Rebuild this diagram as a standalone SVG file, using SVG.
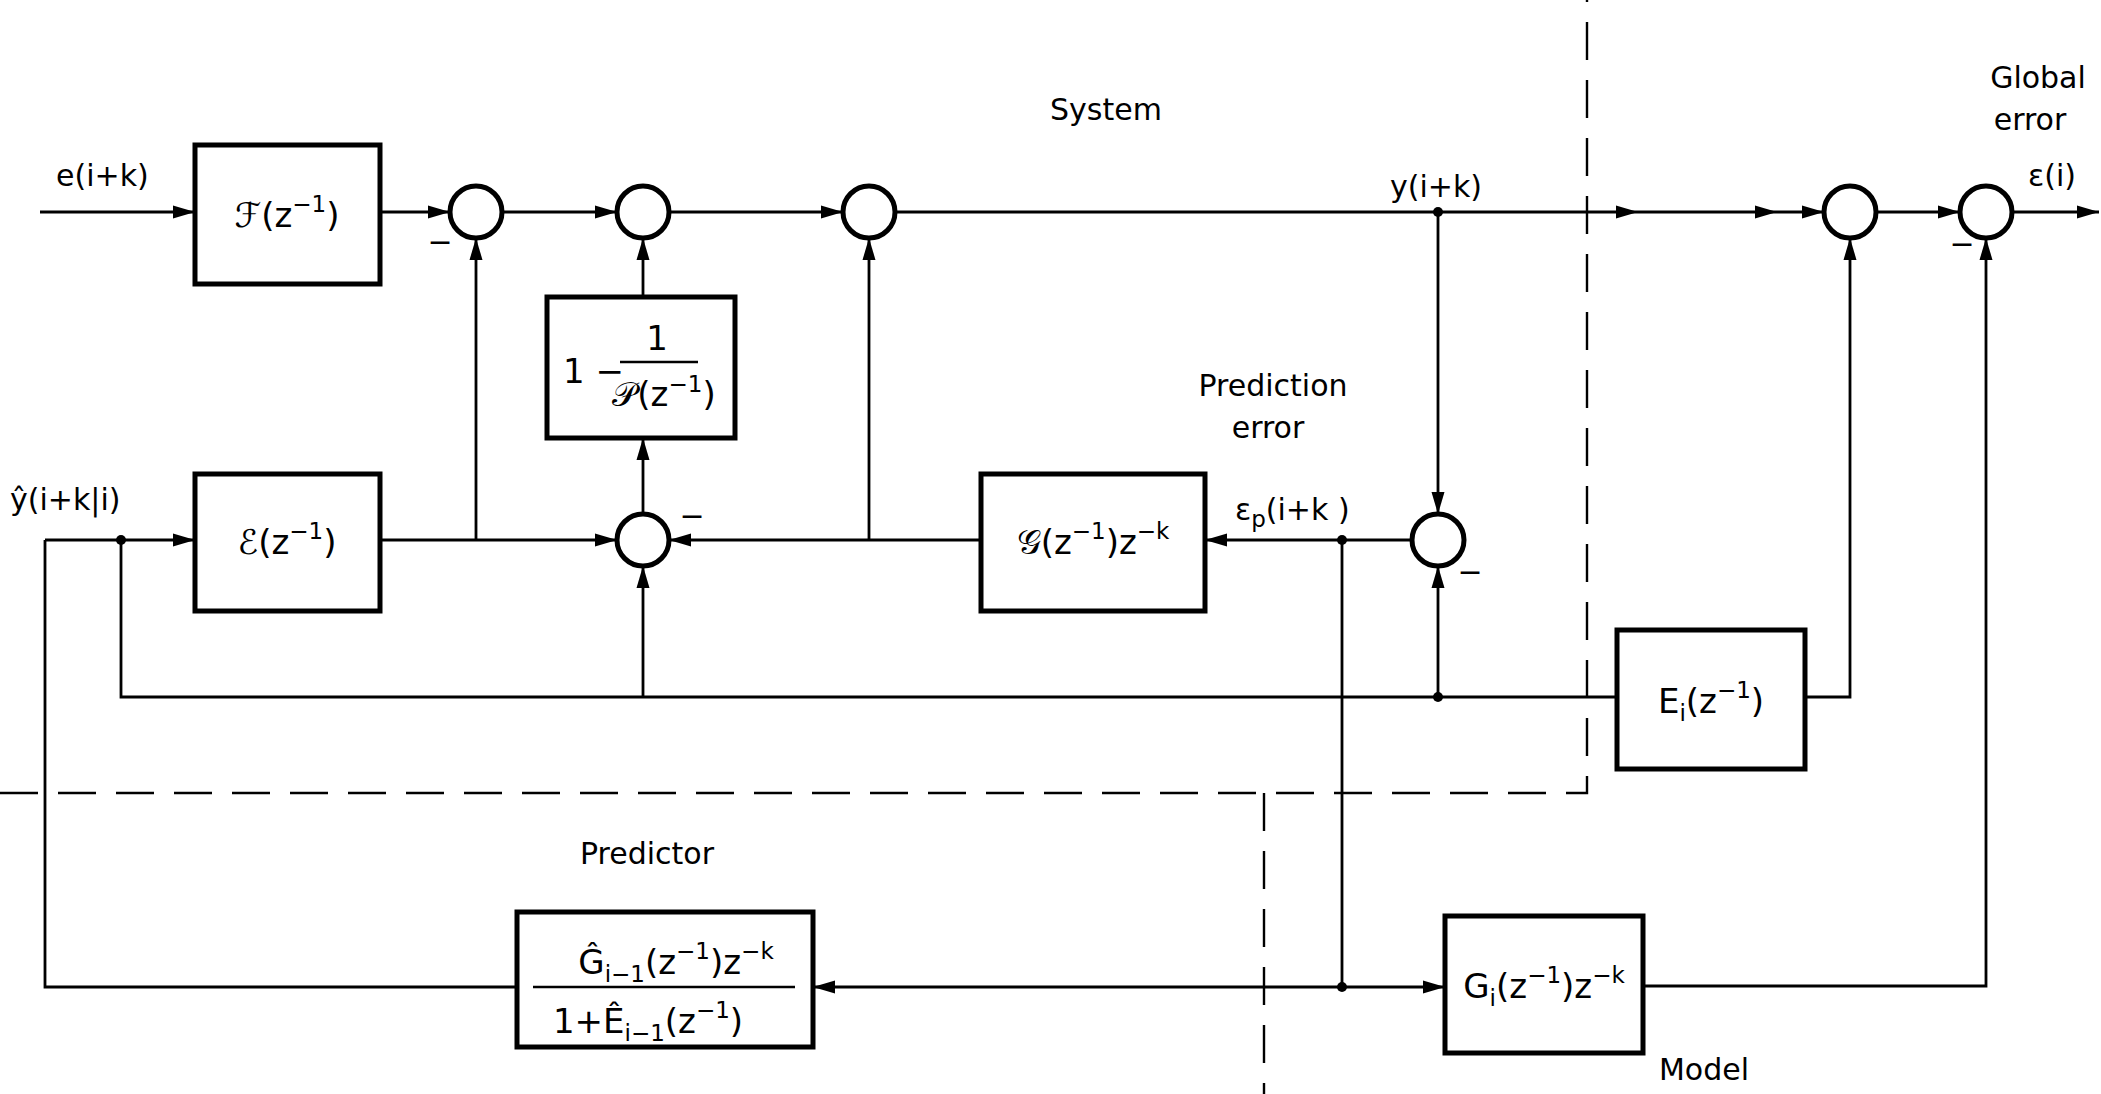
<svg xmlns="http://www.w3.org/2000/svg" width="2101" height="1094" viewBox="0 0 2101 1094">
<defs>
<marker id="arr" markerUnits="userSpaceOnUse" markerWidth="24" markerHeight="14" refX="22" refY="7" orient="auto">
<path d="M0,0.5 L22,7 L0,13.5 z" fill="#000"/>
</marker>
</defs>
<style>
.box{fill:#fff;stroke:#000;stroke-width:5}
.sum{fill:#fff;stroke:#000;stroke-width:5}
.ln{fill:none;stroke:#000;stroke-width:2.8}
.ar{fill:none;stroke:#000;stroke-width:2.8;marker-end:url(#arr)}
.dash{fill:none;stroke:#000;stroke-width:2.4;stroke-dasharray:38 20}
.dot{fill:#000}
text{font-family:"DejaVu Sans","Liberation Sans",sans-serif;fill:#000}
.lbl{font-size:30px}
.bt{font-size:34px}
.sup{font-size:23px}
.minus{font-size:30px}
</style>
<rect width="2101" height="1094" fill="#fff"/>

<g id="boundaries">
<path class="dash" d="M0,793 H1587 V0"/>
<path class="dash" d="M1264,793 V1094"/>
</g>

<g id="connectors">
<path class="ar" d="M40,212 H195"/>
<path class="ar" d="M380,212 H450"/>
<path class="ar" d="M502,212 H617"/>
<path class="ar" d="M669,212 H843"/>
<path class="ar" d="M895,212 H1638"/>
<path class="ar" d="M1638,212 H1777"/>
<path class="ar" d="M1777,212 H1824"/>
<path class="ar" d="M1876,212 H1960"/>
<path class="ar" d="M2012,212 H2099"/>
<path class="ar" d="M1438,212 V514"/>
<path class="ar" d="M1412,540 H1205"/>
<path class="ar" d="M981,540 H669"/>
<path class="ar" d="M380,540 H617"/>
<path class="ar" d="M476,540 V238"/>
<path class="ar" d="M869,540 V238"/>
<path class="ar" d="M643,514 V438"/>
<path class="ar" d="M643,297 V238"/>
<path class="ar" d="M45,540 H195"/>
<path class="ln" d="M121,540 V697 H1617"/>
<path class="ar" d="M643,697 V566"/>
<path class="ar" d="M1438,697 V566"/>
<path class="ar" d="M1805,697 H1850 V238"/>
<path class="ln" d="M1342,540 V987"/>
<path class="ar" d="M1342,987 H813"/>
<path class="ar" d="M1342,987 H1445"/>
<path class="ar" d="M1643,986 H1986 V238"/>
<path class="ln" d="M517,987 H45 V540"/>
<circle class="dot" cx="121" cy="540" r="5"/>
<circle class="dot" cx="1438" cy="212" r="5"/>
<circle class="dot" cx="1342" cy="540" r="5"/>
<circle class="dot" cx="1438" cy="697" r="5"/>
<circle class="dot" cx="1342" cy="987" r="5"/>
</g>

<g id="F">
<rect class="box" x="195" y="145" width="185" height="139"/>
<text class="bt" x="287" y="227" text-anchor="middle">ℱ(z<tspan class="sup" dy="-15">−1</tspan><tspan dy="15">)</tspan></text>
</g>
<g id="E">
<rect class="box" x="195" y="474" width="185" height="137"/>
<text class="bt" x="287" y="554" text-anchor="middle">ℰ(z<tspan class="sup" dy="-15">−1</tspan><tspan dy="15">)</tspan></text>
</g>
<g id="P">
<rect class="box" x="547" y="297" width="188" height="141"/>
<text class="bt" x="563" y="383">1 −</text>
<text class="bt" x="657" y="350" text-anchor="middle">1</text>
<line x1="620" y1="362" x2="698" y2="362" stroke="#000" stroke-width="2.6"/>
<text class="bt" x="664" y="406" text-anchor="middle">𝒫(z<tspan class="sup" dy="-14">−1</tspan><tspan dy="14">)</tspan></text>
</g>
<g id="G">
<rect class="box" x="981" y="474" width="224" height="137"/>
<text class="bt" x="1093" y="554" text-anchor="middle">𝒢(z<tspan class="sup" dy="-15">−1</tspan><tspan dy="15">)z</tspan><tspan class="sup" dy="-15">−k</tspan></text>
</g>
<g id="Ei">
<rect class="box" x="1617" y="630" width="188" height="139"/>
<text class="bt" x="1711" y="713" text-anchor="middle">E<tspan class="sup" dy="8">i</tspan><tspan dy="-8">(z</tspan><tspan class="sup" dy="-15">−1</tspan><tspan dy="15">)</tspan></text>
</g>
<g id="Predictor">
<rect class="box" x="517" y="912" width="296" height="135"/>
<text class="bt" x="676" y="974" text-anchor="middle">Ĝ<tspan class="sup" dy="8">i−1</tspan><tspan dy="-8">(z</tspan><tspan class="sup" dy="-15">−1</tspan><tspan dy="15">)z</tspan><tspan class="sup" dy="-15">−k</tspan></text>
<line x1="533" y1="987" x2="795" y2="987" stroke="#000" stroke-width="2.6"/>
<text class="bt" x="648" y="1033" text-anchor="middle">1+Ê<tspan class="sup" dy="8">i−1</tspan><tspan dy="-8">(z</tspan><tspan class="sup" dy="-15">−1</tspan><tspan dy="15">)</tspan></text>
</g>
<g id="Gi">
<rect class="box" x="1445" y="916" width="198" height="137"/>
<text class="bt" x="1544" y="998" text-anchor="middle">G<tspan class="sup" dy="8">i</tspan><tspan dy="-8">(z</tspan><tspan class="sup" dy="-15">−1</tspan><tspan dy="15">)z</tspan><tspan class="sup" dy="-15">−k</tspan></text>
</g>

<g id="sum1"><circle class="sum" cx="476" cy="212" r="26"/><text class="minus" x="440" y="252" text-anchor="middle">−</text></g>
<g id="sum2"><circle class="sum" cx="643" cy="212" r="26"/></g>
<g id="sum3"><circle class="sum" cx="869" cy="212" r="26"/></g>
<g id="sum4"><circle class="sum" cx="1850" cy="212" r="26"/></g>
<g id="sum5"><circle class="sum" cx="1986" cy="212" r="26"/><text class="minus" x="1962" y="254" text-anchor="middle">−</text></g>
<g id="sum6"><circle class="sum" cx="1438" cy="540" r="26"/><text class="minus" x="1470" y="582" text-anchor="middle">−</text></g>
<g id="sum7"><circle class="sum" cx="643" cy="540" r="26"/><text class="minus" x="692" y="526" text-anchor="middle">−</text></g>

<g id="labels">
<text class="lbl" x="56" y="186">e(i+k)</text>
<text class="lbl" x="10" y="510">ŷ(i+k|i)</text>
<text class="lbl" x="1050" y="120">System</text>
<text class="lbl" x="1436" y="197" text-anchor="middle">y(i+k)</text>
<text class="lbl" x="1273" y="396" text-anchor="middle">Prediction</text>
<text class="lbl" x="1268" y="438" text-anchor="middle">error</text>
<text class="lbl" x="1235" y="520">ε<tspan class="sup" dy="7">p</tspan><tspan dy="-7">(i+k )</tspan></text>
<text class="lbl" x="2038" y="88" text-anchor="middle">Global</text>
<text class="lbl" x="2030" y="130" text-anchor="middle">error</text>
<text class="lbl" x="2052" y="186" text-anchor="middle">ε(i)</text>
<text class="lbl" x="647" y="864" text-anchor="middle">Predictor</text>
<text class="lbl" x="1704" y="1080" text-anchor="middle">Model</text>
</g>
</svg>
